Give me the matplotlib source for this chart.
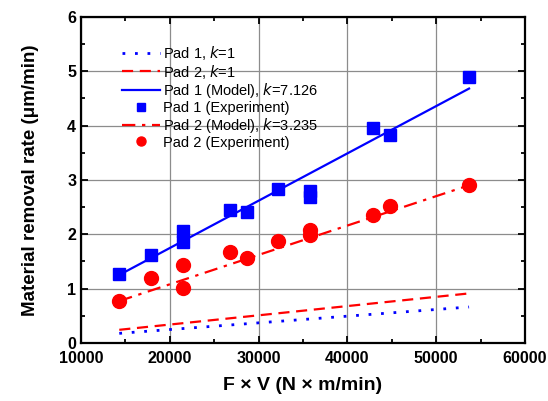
import matplotlib
matplotlib.use("Agg")
import matplotlib.pyplot as plt
from matplotlib.ticker import MultipleLocator

plt.rcParams["font.family"] = ["Liberation Sans", "DejaVu Sans"]

# Pad 1 experiment (blue squares)
pad1_fv = [14300, 17900, 21500, 21500, 26800, 28700, 32200, 35800, 35800, 42900, 44800, 53700]
pad1_mrr = [1.26, 1.61, 2.05, 1.86, 2.44, 2.41, 2.84, 2.79, 2.69, 3.95, 3.82, 4.90]

# Pad 2 experiment (red circles)
pad2_fv = [14300, 17900, 21500, 21500, 26800, 28700, 32200, 35800, 35800, 42900, 44800, 53700]
pad2_mrr = [0.77, 1.20, 1.44, 1.01, 1.67, 1.57, 1.88, 2.08, 1.99, 2.35, 2.52, 2.91]

# model lines (end points)
line_fv = [14300, 53700]
pad1_k1 = [0.175, 0.66]
pad2_k1 = [0.24, 0.91]
pad1_model = [1.25, 4.68]
pad2_model = [0.77, 2.90]

fig = plt.figure(figsize=(5.48, 4.01), dpi=100)
ax = fig.add_axes([0.148, 0.145, 0.81, 0.813])

ax.plot(line_fv, pad1_k1, color="blue", ls=(0, (1, 3.5)), lw=2, label="Pad 1, $k$=1")
ax.plot(line_fv, pad2_k1, color="red", ls=(0, (5, 3)), lw=1.6, label="Pad 2, $k$=1")
ax.plot(line_fv, pad1_model, color="blue", ls="-", lw=1.6, label="Pad 1 (Model), $k$=7.126")
ax.plot(pad1_fv, pad1_mrr, ls="none", marker="s", ms=9, color="blue", label="Pad 1 (Experiment)")
ax.plot(line_fv, pad2_model, color="red", ls=(0, (6, 3, 1.5, 3)), lw=1.6, label="Pad 2 (Model), $k$=3.235")
ax.plot(pad2_fv, pad2_mrr, ls="none", marker="o", ms=10, color="red", label="Pad 2 (Experiment)")

ax.set_xlim(10000, 60000)
ax.set_ylim(0, 6)
ax.xaxis.set_major_locator(MultipleLocator(10000))
ax.xaxis.set_minor_locator(MultipleLocator(5000))
ax.yaxis.set_major_locator(MultipleLocator(1))
ax.yaxis.set_minor_locator(MultipleLocator(0.5))
ax.tick_params(which="both", direction="in", top=True, right=True, labelsize=11.5, width=1.3)
ax.tick_params(which="major", length=5)
ax.tick_params(which="minor", length=3)
ax.tick_params(axis="x", pad=6)
for lab in ax.get_xticklabels() + ax.get_yticklabels():
    lab.set_fontweight("bold")
ax.grid(True, color="#8c8c8c", lw=0.9)
ax.set_axisbelow(True)
for sp in ax.spines.values():
    sp.set_linewidth(1.6)

ax.set_xlabel("F × V (N × m/min)", fontsize=14, fontweight="bold", labelpad=8)
ax.set_ylabel("Material removal rate (μm/min)", fontsize=13.5, fontweight="bold", labelpad=20)

leg = ax.legend(loc="upper left", bbox_to_anchor=(0.08, 0.935), frameon=False, fontsize=10.5,
                handlelength=2.6, handletextpad=0.2, labelspacing=0.05, borderaxespad=0,
                markerscale=0.65)

fig.savefig("out.png", dpi=100)
